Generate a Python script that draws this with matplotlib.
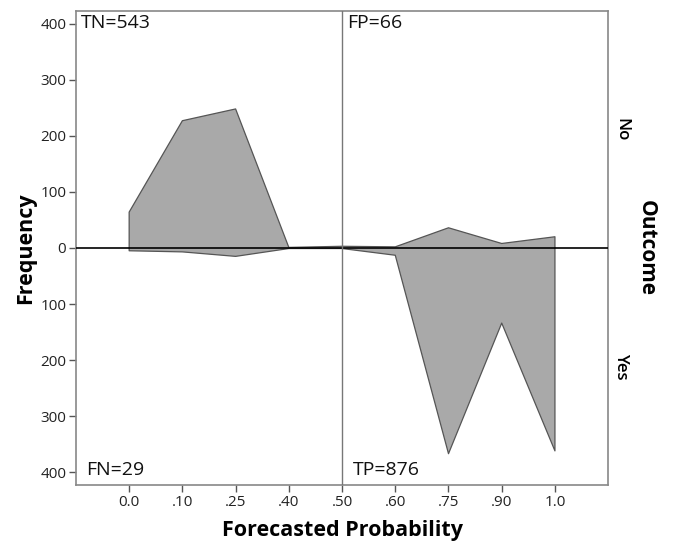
import matplotlib
matplotlib.use("Agg")
import matplotlib.pyplot as plt
import numpy as np

categories = ["0.0", ".10", ".25", ".40", ".50", ".60", ".75", ".90", "1.0"]
no_counts = [64, 227, 248, 1, 3, 2, 36, 8, 20]
yes_counts = [5, 7, 15, 1, 1, 13, 367, 134, 362]
ytick_vals = [-400, -300, -200, -100, 0, 100, 200, 300, 400]
quadrant_labels = {"TN": 543, "FP": 66, "FN": 29, "TP": 876}

plt.rcParams['font.family'] = ['Open Sans', 'DejaVu Sans']

fig = plt.figure(figsize=(6.78, 5.42), dpi=100)
ax = fig.add_axes([0.112, 0.105, 0.785, 0.875])

x = np.arange(len(categories))
no = np.array(no_counts)
yes = -np.array(yes_counts)

fill_c = '#a9a9a9'
edge_c = '#555555'
ax.fill_between(x, 0, no, facecolor=fill_c, edgecolor='none', zorder=2)
ax.fill_between(x, 0, yes, facecolor=fill_c, edgecolor='none', zorder=2)
ax.plot(np.r_[x[0], x, x[-1]], np.r_[0, no, 0], color=edge_c, lw=0.9, zorder=3)
ax.plot(np.r_[x[0], x, x[-1]], np.r_[0, yes, 0], color=edge_c, lw=0.9, zorder=3)

ax.axhline(0, color='black', lw=1.2, zorder=4)
ax.axvline(4, color='#777777', lw=1.0, zorder=4)

ax.set_xlim(-1, 9)
ax.set_ylim(-423, 423)
ax.set_xticks(x)
ax.set_xticklabels(categories)
ax.set_yticks(ytick_vals)
ax.set_yticklabels([str(abs(v)) for v in ytick_vals])
ax.tick_params(axis='both', direction='out', length=5, width=1, color='#555555',
               labelsize=11, labelcolor='#222222', pad=2)
for s in ax.spines.values():
    s.set_color('#888888')
    s.set_linewidth(1.2)

ax.set_xlabel("Forecasted Probability", fontsize=15.5, fontweight='bold', labelpad=7)
ax.set_ylabel("Frequency", fontsize=15.5, fontweight='bold', labelpad=3)

tkw = dict(fontsize=14, color='#111111', zorder=5)
ax.text(-0.9, 418, f"TN={quadrant_labels['TN']}", va='top', ha='left', **tkw)
ax.text(4.1, 418, f"FP={quadrant_labels['FP']}", va='top', ha='left', **tkw)
ax.text(-0.8, -412, f"FN={quadrant_labels['FN']}", va='bottom', ha='left', **tkw)
ax.text(4.2, -412, f"TP={quadrant_labels['TP']}", va='bottom', ha='left', **tkw)

ax.text(1.025, 0.75, "No", transform=ax.transAxes, rotation=-90, va='center', ha='center',
        fontsize=12, fontweight='semibold')
ax.text(1.025, 0.25, "Yes", transform=ax.transAxes, rotation=-90, va='center', ha='center',
        fontsize=12, fontweight='semibold')
ax.text(1.072, 0.5, "Outcome", transform=ax.transAxes, rotation=-90, va='center', ha='center',
        fontsize=15, fontweight='bold')

fig.savefig("out.png", dpi=100)
